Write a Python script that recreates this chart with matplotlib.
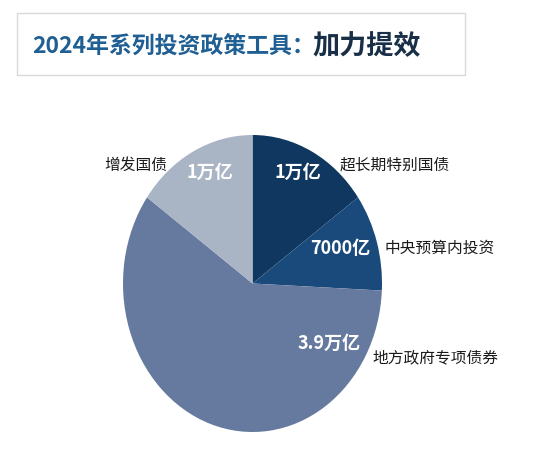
import matplotlib
matplotlib.use("Agg")
import matplotlib.pyplot as plt
from matplotlib.patches import Rectangle

plt.rcParams['font.family'] = ['Noto Sans CJK SC', 'DejaVu Sans']

# data (万亿元)
names = ["超长期特别国债", "中央预算内投资", "地方政府专项债券", "增发国债"]
values = [1.0, 0.7, 3.9, 1.0]
value_labels = ["1万亿", "7000亿", "3.9万亿", "1万亿"]
colors = ["#10375f", "#1a4a7c", "#667a9f", "#a9b4c5"]

W, H = 550, 450
fig = plt.figure(figsize=(W / 100, H / 100), dpi=100)


def px(x, y):
    # pixel position (top-left origin) -> figure fraction
    return x / W, 1 - y / H


# pie axes, stretched vertically like the original
ax = fig.add_axes([123 / W, (H - 432) / H, 259 / W, 297 / H])
ax.pie(values, colors=colors, startangle=90, counterclock=False,
       wedgeprops=dict(linewidth=0))
ax.set_aspect('auto')
ax.set_xlim(-1, 1)
ax.set_ylim(-1, 1)
ax.axis('off')

# title box
fig.patches.append(Rectangle(px(17, 75), 448 / W, 62 / H, transform=fig.transFigure,
                             fill=False, edgecolor="#d9d9d9", linewidth=1))
fig.text(*px(32, 47), "2024年系列投资政策工具：", fontsize=16.5, fontweight='bold',
         color="#1f5f93", ha='left', va='center')
fig.text(*px(312, 46), "加力提效", fontsize=19.5, fontweight='heavy',
         color="#182f47", ha='left', va='center')

# values inside slices
inner_pos = [(298, 172), (340, 248), (329, 343), (210, 172)]
for (x, y), lab in zip(inner_pos, value_labels):
    fig.text(*px(x, y), lab, fontsize=13, fontweight='bold', color='white',
             ha='center', va='center')

# category labels outside
outer_pos = [(340, 165, 'left'), (385, 248, 'left'), (372, 358, 'left'), (167, 165, 'right')]
for (x, y, ha), name in zip(outer_pos, names):
    fig.text(*px(x, y), name, fontsize=11.3, color='#1a1a1a', ha=ha, va='center')

fig.savefig("out.png", dpi=100)
